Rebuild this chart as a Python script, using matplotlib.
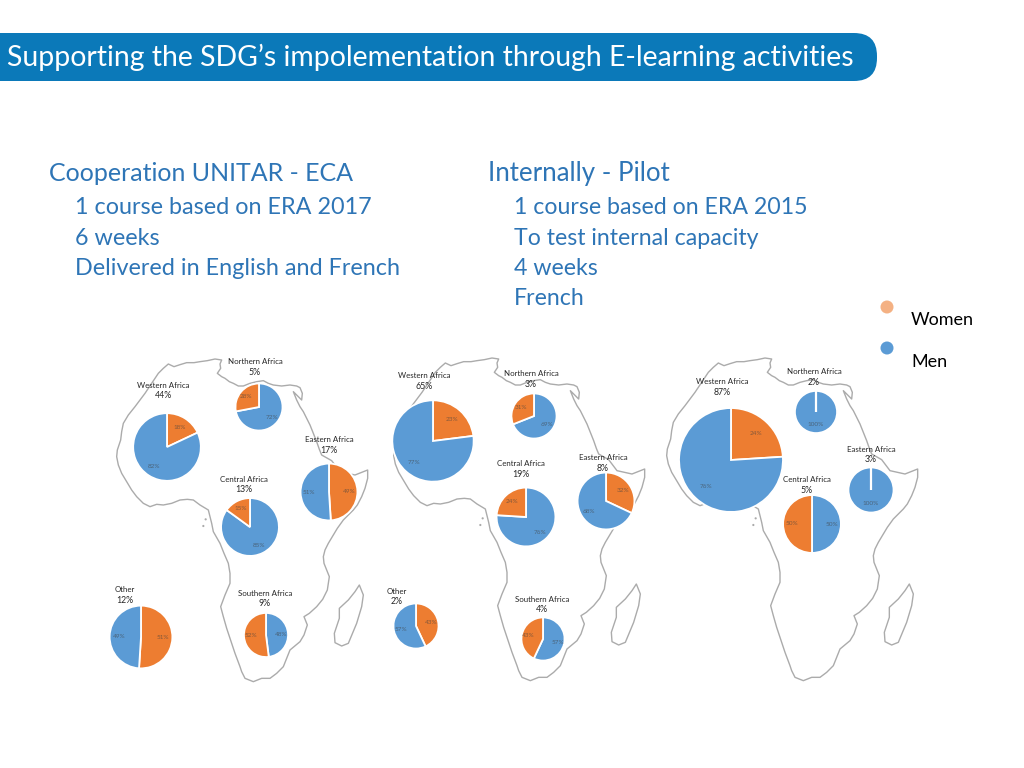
import matplotlib
matplotlib.use("Agg")
import matplotlib.pyplot as plt
from matplotlib.patches import FancyBboxPatch, Polygon, Circle

plt.rcParams['font.family'] = ['Lato', 'DejaVu Sans']

W, H = 1024, 768
ORANGE = '#ED7D31'
BLUE = '#5B9BD5'
HEAD = '#2E75B6'

title = "Supporting the SDG’s impolementation through E-learning activities"
left_head = "Cooperation UNITAR - ECA"
left_lines = ["1 course based on ERA 2017", "6 weeks", "Delivered in English and French"]
right_head = "Internally - Pilot"
right_lines = ["1 course based on ERA 2015", "To test internal capacity", "4 weeks", "French"]
legend_labels = ["Women", "Men"]

# Map 1: ECA course
regions_1 = ["Western Africa", "Northern Africa", "Eastern Africa", "Central Africa", "Southern Africa", "Other"]
shares_1 = [44, 5, 17, 13, 9, 12]
women_1 = [18, 28, 49, 15, 52, 51]
men_1 = [82, 72, 51, 85, 48, 49]
men_first_1 = [False, True, False, True, True, False]

# Map 2: pilot course
regions_2 = ["Western Africa", "Northern Africa", "Eastern Africa", "Central Africa", "Southern Africa", "Other"]
shares_2 = [65, 3, 8, 19, 4, 2]
women_2 = [23, 31, 32, 24, 43, 43]
men_2 = [77, 69, 68, 76, 57, 57]
men_first_2 = [False, True, False, True, True, False]

# Map 3
regions_3 = ["Western Africa", "Northern Africa", "Eastern Africa", "Central Africa"]
shares_3 = [87, 2, 3, 5]
women_3 = [24, 0, 0, 50]
men_3 = [76, 100, 100, 50]
men_first_3 = [False, True, True, True]

# Layout (pixels): pie centre x, y, radius; label centre x, y
layout_1 = [(167, 447, 34.5, 163, 385), (259, 407, 24, 255, 362), (329, 492, 29, 329, 440),
            (250, 527, 29.5, 244, 479), (266, 635, 22.5, 265, 593), (141, 637, 32, 125, 590)]
layout_2 = [(433, 441, 41.5, 424, 376), (534, 416, 23, 531, 374), (606, 501, 29, 603, 458),
            (526, 517, 30, 521, 464), (543, 639, 22, 542, 599), (416, 626, 23, 397, 591)]
layout_3 = [(731, 460, 53, 722, 382), (816, 412, 21.5, 814, 372), (871, 490, 23, 871, 449),
            (812, 524, 29.5, 807, 480)]

# Outline of the continent, pixels of the first map
AFRICA = [(205,42),(222,50),(240,44),(260,38),(282,38),(300,35),(322,32),(345,27),(365,30),(360,42),(362,55),(352,70),
          (365,80),(375,85),(388,95),(400,100),(415,108),(430,108),(450,100),(470,95),(490,92),(505,100),(520,105),
          (545,108),(570,105),(590,108),(600,113),(607,130),(605,150),(580,125),(590,150),(600,170),(610,185),(620,205),
          (630,225),(640,250),(650,275),(658,298),(665,315),(695,332),(720,365),(765,375),(803,360),(803,385),(795,415),
          (785,440),(772,465),(760,480),(730,510),(712,535),(700,555),(685,580),(675,600),(670,620),(672,640),(688,680),
          (682,720),(668,748),(650,770),(628,790),(612,800),(622,825),(612,855),(600,875),(570,900),(560,925),(550,950),
          (530,970),(510,985),(485,985),(460,995),(435,985),(425,965),(420,950),(405,910),(395,880),(380,835),(370,800),
          (362,770),(375,735),(390,700),(390,670),(385,640),(372,610),(360,580),(340,545),(335,520),(325,480),(300,465),
          (280,450),(262,448),(240,450),(215,460),(190,465),(170,463),(150,470),(130,460),(110,440),(95,420),(80,395),
          (65,370),(55,345),(50,320),(52,300),(62,270),(65,245),(70,220),(85,195),(105,170),(120,150),(135,130),(155,100),(175,70),(190,55)]
MADAGASCAR = [(778,705),(790,735),(785,770),(770,820),(745,880),(725,888),(705,878),(703,850),(718,805),(718,775),(745,750),(765,725)]
ISLANDS = [(317,508),(310,528)]
MAP_SHIFTS = [(0, 0), (277, -1), (550, -1)]

fig = plt.figure(figsize=(W / 100, H / 100), dpi=100, facecolor='white')


def pixel_axes(z):
    a = fig.add_axes([0, 0, 1, 1], zorder=z)
    a.set_xlim(0, W)
    a.set_ylim(H, 0)
    a.axis('off')
    a.patch.set_alpha(0)
    return a


bg = pixel_axes(0)
fg = pixel_axes(10)

# Title band
bg.add_patch(FancyBboxPatch((-40, 33), 917, 48, boxstyle="round,pad=0,rounding_size=23",
                            fc='#0B79B9', ec='none'))
bg.text(7, 57, title, color='white', fontsize=20.4, va='center', ha='left')

# Headings
bg.text(49, 181, left_head, color=HEAD, fontsize=18, va='baseline')
for y, s in zip([214, 245, 275], left_lines):
    bg.text(75, y, s, color=HEAD, fontsize=16.8, va='baseline')
bg.text(488, 181, right_head, color=HEAD, fontsize=18.6, va='baseline')
for y, s in zip([214, 245, 275, 305], right_lines):
    bg.text(514, y, s, color=HEAD, fontsize=16.7, va='baseline')

# Legend
for (cy, ty), col, s in zip([(307, 320), (348, 362)], ['#F4B183', BLUE], legend_labels):
    bg.add_patch(Circle((887, cy), 6.5, fc=col, ec='none'))
    bg.text(911, ty, s, color='black', fontsize=13, va='center')

# Maps
OUT = '#ABABAB'
for dx, dy in MAP_SHIFTS:
    def conv(p):
        return [(100 + x / 3 + dx, 350 + y / 3 + dy) for x, y in p]
    bg.add_patch(Polygon(conv(AFRICA), closed=True, fc='white', ec=OUT, lw=1.0, joinstyle='round'))
    bg.add_patch(Polygon(conv(MADAGASCAR), closed=True, fc='white', ec=OUT, lw=1.0, joinstyle='round'))
    for cx, cy in conv(ISLANDS):
        bg.add_patch(Circle((cx, cy), 1.1, fc=OUT, ec='none'))


def draw_pie(cx, cy, r, women, men, men_first):
    ax = fig.add_axes([(cx - r) / W, 1 - (cy + r) / H, 2 * r / W, 2 * r / H], zorder=5)
    vals, cols = ([men, women], [BLUE, ORANGE]) if men_first else ([women, men], [ORANGE, BLUE])
    vals = [v for v in vals if v > 0] if min(vals) == 0 else vals
    cols = [BLUE] if len(vals) == 1 else cols
    _, _, auto = ax.pie(vals, colors=cols, startangle=90, counterclock=False, radius=1,
                        autopct='%.0f%%', pctdistance=0.7,
                        wedgeprops=dict(edgecolor='white', linewidth=1.3),
                        textprops=dict(fontsize=4.6, color='#404040', alpha=0.6))
    ax.set_xlim(-1.02, 1.02)
    ax.set_ylim(-1.02, 1.02)
    if len(vals) == 1:
        ax.plot([0, 0], [0, 1.02], color='white', lw=1.6, solid_capstyle='butt')
        auto[0].set_position((0, -0.6))


for regions, shares, women, men, first, layout in [
        (regions_1, shares_1, women_1, men_1, men_first_1, layout_1),
        (regions_2, shares_2, women_2, men_2, men_first_2, layout_2),
        (regions_3, shares_3, women_3, men_3, men_first_3, layout_3)]:
    for name, sh, w, m, f, (cx, cy, r, lx, ly) in zip(regions, shares, women, men, first, layout):
        draw_pie(cx, cy, r, w, m, f)
        fg.text(lx, ly, name, fontsize=5.7, color='#262626', ha='center', va='center')
        fg.text(lx, ly + 10.5, f"{sh}%", fontsize=6.3, color='#262626', ha='center', va='center')

fig.savefig('out.png', dpi=100)
